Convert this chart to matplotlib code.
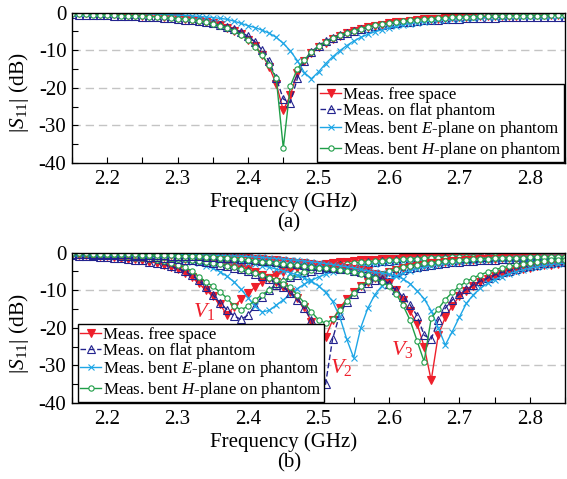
import numpy as np
import matplotlib
matplotlib.use("Agg")
import matplotlib.pyplot as plt
from matplotlib.ticker import MultipleLocator

plt.rcParams['font.family'] = ['Liberation Serif', 'DejaVu Serif']
plt.rcParams['mathtext.fontset'] = 'custom'
plt.rcParams['mathtext.rm'] = 'Liberation Serif'
plt.rcParams['mathtext.it'] = 'Liberation Serif:italic'
plt.rcParams['axes.unicode_minus'] = False

# frequency grid (GHz)
freq = [2.15, 2.16, 2.17, 2.18, 2.19, 2.20, 2.21, 2.22, 2.23, 2.24,
        2.25, 2.26, 2.27, 2.28, 2.29, 2.30, 2.31, 2.32, 2.33, 2.34,
        2.35, 2.36, 2.37, 2.38, 2.39, 2.40, 2.41, 2.42, 2.43, 2.44,
        2.45, 2.46, 2.47, 2.48, 2.49, 2.50, 2.51, 2.52, 2.53, 2.54,
        2.55, 2.56, 2.57, 2.58, 2.59, 2.60, 2.61, 2.62, 2.63, 2.64,
        2.65, 2.66, 2.67, 2.68, 2.69, 2.70, 2.71, 2.72, 2.73, 2.74,
        2.75, 2.76, 2.77, 2.78, 2.79, 2.80, 2.81, 2.82, 2.83, 2.84, 2.85]

# ---- (a) ----
a_free = [-0.1, -0.15, -0.2, -0.25, -0.3, -0.4, -0.45, -0.5, -0.6, -0.7,
          -0.8, -0.9, -1.0, -1.2, -1.3, -1.5, -1.7, -1.9, -2.2, -2.5,
          -2.9, -3.4, -4.0, -4.8, -5.8, -7.2, -8.9, -11.2, -14.5, -19.0,
          -26.0, -22.0, -16.0, -12.8, -10.8, -9.2, -8.0, -7.0, -6.2, -5.5,
          -4.9, -4.4, -3.9, -3.5, -3.2, -2.9, -2.6, -2.4, -2.2, -2.0,
          -1.8, -1.7, -1.6, -1.4, -1.3, -1.2, -1.1, -1.05, -1.0, -0.95,
          -0.9, -0.85, -0.8, -0.8, -0.75, -0.7, -0.7, -0.65, -0.65, -0.6, -0.6]
a_flat = [-0.5, -0.55, -0.6, -0.65, -0.7, -0.75, -0.8, -0.9, -0.95, -1.0,
          -1.1, -1.2, -1.3, -1.4, -1.55, -1.7, -1.9, -2.1, -2.3, -2.6,
          -2.9, -3.3, -3.8, -4.4, -5.2, -6.3, -7.8, -10.0, -13.0, -17.5,
          -23.0, -24.0, -17.5, -13.0, -10.5, -8.8, -7.6, -6.7, -6.0, -5.4,
          -4.9, -4.4, -4.0, -3.6, -3.3, -3.0, -2.8, -2.6, -2.4, -2.2,
          -2.1, -2.0, -1.9, -1.8, -1.7, -1.6, -1.55, -1.5, -1.45, -1.4,
          -1.35, -1.3, -1.3, -1.25, -1.25, -1.2, -1.2, -1.2, -1.15, -1.15, -1.15]
a_eplane = [-0.05, -0.05, -0.1, -0.1, -0.15, -0.15, -0.2, -0.25, -0.25, -0.3,
            -0.35, -0.4, -0.45, -0.55, -0.6, -0.7, -0.8, -0.9, -1.05, -1.2,
            -1.35, -1.55, -1.8, -2.3, -2.9, -3.5, -4.0, -4.7, -5.5, -6.6,
            -8.2, -10.2, -12.8, -16.0, -17.6, -15.8, -13.6, -11.8, -10.2, -8.8,
            -7.6, -6.6, -5.8, -5.1, -4.6, -4.1, -3.7, -3.3, -3.0, -2.7,
            -2.5, -2.3, -2.1, -1.9, -1.75, -1.6, -1.5, -1.4, -1.3, -1.2,
            -1.15, -1.1, -1.05, -1.0, -0.95, -0.9, -0.85, -0.85, -0.8, -0.8, -0.75]
a_hplane = [-0.4, -0.45, -0.5, -0.55, -0.6, -0.65, -0.7, -0.8, -0.85, -0.9,
            -1.0, -1.1, -1.2, -1.3, -1.45, -1.6, -1.8, -2.0, -2.3, -2.6,
            -3.0, -3.5, -4.1, -4.9, -5.9, -7.3, -9.1, -11.4, -14.0, -17.5,
            -36.0, -19.5, -15.0, -12.5, -10.6, -9.0, -7.8, -6.9, -6.1, -5.4,
            -4.8, -4.3, -3.8, -3.4, -3.1, -2.8, -2.5, -2.3, -2.1, -1.9,
            -1.8, -1.6, -1.5, -1.4, -1.3, -1.2, -1.15, -1.1, -1.05, -1.0,
            -0.95, -0.9, -0.9, -0.85, -0.85, -0.8, -0.8, -0.8, -0.75, -0.75, -0.75]

# ---- (b) V1 ----
v1_free = [-0.5, -0.6, -0.7, -0.8, -0.9, -1.0, -1.2, -1.4, -1.6, -1.8,
           -2.1, -2.4, -2.8, -3.2, -3.8, -4.5, -5.4, -6.6, -8.2, -10.0,
           -11.6, -13.8, -16.5, -14.5, -12.4, -10.8, -9.2, -7.8, -6.7, -5.9,
           -5.2, -4.6, -4.2, -3.8, -3.5, -3.2, -3.0, -2.8, -2.6, -2.4,
           -2.3, -2.1, -2.0, -1.9, -1.8, -1.7, -1.6, -1.5, -1.45, -1.4,
           -1.3, -1.25, -1.2, -1.15, -1.1, -1.05, -1.0, -0.95, -0.9, -0.9,
           -0.85, -0.8, -0.8, -0.75, -0.75, -0.7, -0.7, -0.65, -0.65, -0.6, -0.6]
v1_flat = [-0.7, -0.8, -0.9, -1.0, -1.1, -1.2, -1.35, -1.5, -1.7, -1.9,
           -2.1, -2.4, -2.7, -3.1, -3.6, -4.2, -5.0, -6.0, -7.4, -9.2,
           -11.2, -13.4, -15.2, -16.8, -17.8, -16.6, -14.2, -11.8, -10.0, -8.6,
           -7.5, -6.6, -5.9, -5.3, -4.8, -4.4, -4.0, -3.7, -3.4, -3.2,
           -3.0, -2.8, -2.6, -2.5, -2.35, -2.2, -2.1, -2.0, -1.9, -1.8,
           -1.75, -1.7, -1.6, -1.55, -1.5, -1.45, -1.4, -1.35, -1.3, -1.3,
           -1.25, -1.2, -1.2, -1.15, -1.15, -1.1, -1.1, -1.1, -1.05, -1.05, -1.0]
v1_eplane = [-0.2, -0.25, -0.3, -0.35, -0.4, -0.45, -0.5, -0.6, -0.7, -0.8,
             -0.9, -1.0, -1.15, -1.3, -1.5, -1.7, -2.0, -2.4, -2.9, -3.5,
             -4.2, -5.1, -6.3, -7.8, -9.8, -12.0, -14.3, -15.8, -15.4, -14.0,
             -12.6, -11.0, -9.6, -8.4, -7.4, -6.5, -5.8, -5.2, -4.7, -4.3,
             -3.9, -3.6, -3.3, -3.0, -2.8, -2.6, -2.4, -2.25, -2.1, -2.0,
             -1.9, -1.8, -1.7, -1.6, -1.5, -1.45, -1.4, -1.3, -1.25, -1.2,
             -1.15, -1.1, -1.05, -1.0, -1.0, -0.95, -0.9, -0.9, -0.85, -0.85, -0.8]
v1_hplane = [-0.4, -0.5, -0.55, -0.6, -0.7, -0.8, -0.9, -1.0, -1.2, -1.35,
             -1.5, -1.7, -2.0, -2.3, -2.7, -3.2, -3.9, -4.9, -6.4, -7.8,
             -9.0, -10.5, -12.1, -14.2, -15.2, -14.3, -12.6, -11.2, -9.9, -8.6,
             -7.5, -6.6, -5.8, -5.2, -4.6, -4.2, -3.8, -3.5, -3.2, -3.0,
             -2.8, -2.6, -2.4, -2.3, -2.15, -2.0, -1.9, -1.8, -1.7, -1.6,
             -1.55, -1.5, -1.4, -1.35, -1.3, -1.25, -1.2, -1.15, -1.1, -1.1,
             -1.05, -1.0, -1.0, -0.95, -0.95, -0.9, -0.9, -0.9, -0.85, -0.85, -0.85]

# ---- (b) V2 ----
v2_free = [-0.2, -0.25, -0.3, -0.35, -0.4, -0.45, -0.5, -0.55, -0.6, -0.7,
           -0.8, -0.9, -1.0, -1.1, -1.25, -1.4, -1.6, -1.8, -2.0, -2.3,
           -2.6, -2.9, -3.3, -3.7, -4.1, -4.5, -5.2, -5.9, -6.8, -7.9,
           -9.2, -10.6, -12.2, -14.6, -18.5, -21.0, -22.5, -18.0, -14.8, -12.4,
           -10.5, -9.0, -7.8, -6.8, -6.0, -5.3, -4.7, -4.2, -3.8, -3.5,
           -3.2, -2.9, -2.7, -2.5, -2.3, -2.2, -2.0, -1.9, -1.8, -1.7,
           -1.6, -1.55, -1.5, -1.4, -1.35, -1.3, -1.25, -1.2, -1.2, -1.15, -1.1]
v2_flat = [-0.4, -0.45, -0.5, -0.55, -0.6, -0.65, -0.7, -0.8, -0.85, -0.95,
           -1.05, -1.15, -1.3, -1.4, -1.55, -1.7, -1.9, -2.1, -2.3, -2.6,
           -2.9, -3.2, -3.6, -4.0, -4.5, -5.0, -5.6, -6.3, -7.1, -8.1,
           -9.3, -10.8, -12.6, -14.8, -18.0, -24.0, -35.0, -23.0, -16.5, -13.2,
           -11.0, -9.4, -8.2, -7.2, -6.4, -5.7, -5.1, -4.6, -4.2, -3.8,
           -3.5, -3.2, -3.0, -2.8, -2.6, -2.45, -2.3, -2.2, -2.1, -2.0,
           -1.9, -1.8, -1.75, -1.7, -1.65, -1.6, -1.55, -1.5, -1.45, -1.45, -1.4]
v2_eplane = [-0.15, -0.2, -0.2, -0.25, -0.3, -0.3, -0.35, -0.4, -0.45, -0.5,
             -0.55, -0.6, -0.7, -0.75, -0.85, -0.95, -1.05, -1.15, -1.3, -1.45,
             -1.6, -1.8, -2.0, -2.25, -2.5, -2.8, -3.1, -3.5, -3.9, -4.4,
             -4.9, -5.4, -6.0, -6.8, -7.7, -8.9, -10.6, -13.0, -17.0, -23.0,
             -28.0, -20.0, -14.8, -11.2, -8.9, -7.4, -6.3, -5.5, -4.8, -4.3,
             -3.9, -3.5, -3.2, -2.9, -2.7, -2.5, -2.3, -2.15, -2.0, -1.9,
             -1.8, -1.7, -1.6, -1.55, -1.5, -1.4, -1.35, -1.3, -1.25, -1.2, -1.15]
v2_hplane = [-0.3, -0.35, -0.4, -0.45, -0.5, -0.55, -0.6, -0.7, -0.75, -0.85,
             -0.95, -1.05, -1.15, -1.3, -1.45, -1.6, -1.8, -2.0, -2.2, -2.5,
             -2.8, -3.1, -3.5, -3.9, -4.4, -4.9, -5.5, -6.0, -6.7, -7.4,
             -8.3, -9.3, -11.3, -13.4, -15.8, -17.9, -18.8, -17.8, -15.4, -12.9,
             -10.7, -9.0, -7.6, -6.5, -5.7, -5.0, -4.4, -3.9, -3.5, -3.2,
             -2.9, -2.7, -2.5, -2.3, -2.15, -2.0, -1.9, -1.8, -1.7, -1.6,
             -1.55, -1.5, -1.45, -1.4, -1.35, -1.3, -1.25, -1.2, -1.2, -1.15, -1.1]

# ---- (b) V3 ----
v3_free = [-0.1, -0.1, -0.15, -0.15, -0.2, -0.2, -0.25, -0.25, -0.3, -0.3,
           -0.35, -0.4, -0.45, -0.5, -0.55, -0.6, -0.65, -0.7, -0.8, -0.85,
           -0.95, -1.0, -1.1, -1.2, -1.3, -1.45, -1.6, -1.75, -1.9, -2.1,
           -2.3, -2.5, -2.7, -2.9, -3.1, -3.3, -3.5, -3.7, -3.9, -4.1,
           -4.3, -4.6, -5.0, -5.6, -6.6, -8.0, -10.0, -12.6, -15.6, -19.0,
           -25.0, -34.0, -22.0, -17.2, -14.2, -11.6, -10.1, -8.9, -7.9, -7.1,
           -6.3, -5.7, -5.2, -4.7, -4.3, -4.0, -3.7, -3.4, -3.2, -3.0, -2.8]
v3_flat = [-0.3, -0.3, -0.35, -0.35, -0.4, -0.4, -0.45, -0.5, -0.5, -0.55,
           -0.6, -0.65, -0.7, -0.75, -0.8, -0.85, -0.9, -1.0, -1.05, -1.15,
           -1.25, -1.35, -1.45, -1.55, -1.7, -1.85, -2.0, -2.15, -2.3, -2.5,
           -2.7, -2.9, -3.1, -3.3, -3.5, -3.7, -3.9, -4.1, -4.3, -4.5,
           -4.8, -5.1, -5.5, -6.1, -7.0, -8.3, -10.0, -11.8, -13.9, -16.8,
           -22.0, -23.0, -18.0, -14.8, -12.6, -11.1, -9.8, -8.6, -7.6, -6.8,
           -6.0, -5.3, -4.8, -4.3, -3.9, -3.5, -3.2, -2.9, -2.7, -2.5, -2.4]
v3_eplane = [-0.1, -0.1, -0.1, -0.15, -0.15, -0.15, -0.2, -0.2, -0.25, -0.25,
             -0.3, -0.3, -0.35, -0.4, -0.4, -0.45, -0.5, -0.55, -0.6, -0.65,
             -0.7, -0.8, -0.85, -0.95, -1.0, -1.1, -1.2, -1.3, -1.45, -1.6,
             -1.75, -1.9, -2.1, -2.3, -2.5, -2.7, -2.95, -3.2, -3.5, -3.8,
             -4.1, -4.5, -4.9, -5.3, -5.5, -5.8, -6.3, -7.0, -8.3, -10.2,
             -12.3, -15.5, -20.0, -24.6, -21.0, -17.2, -13.5, -11.2, -9.5, -8.2,
             -7.2, -6.4, -5.7, -5.1, -4.6, -4.2, -3.8, -3.5, -3.2, -3.0, -2.8]
v3_hplane = [-0.2, -0.25, -0.25, -0.3, -0.3, -0.35, -0.35, -0.4, -0.45, -0.5,
             -0.55, -0.6, -0.65, -0.7, -0.75, -0.8, -0.9, -0.95, -1.05, -1.15,
             -1.25, -1.35, -1.5, -1.65, -1.8, -2.0, -2.2, -2.4, -2.6, -2.8,
             -3.0, -3.2, -3.4, -3.6, -3.8, -4.0, -4.2, -4.4, -4.6, -4.9,
             -5.2, -5.6, -6.1, -6.8, -7.8, -9.0, -11.0, -14.0, -18.0, -23.5,
             -29.0, -17.5, -15.0, -12.5, -10.6, -9.0, -7.7, -6.7, -5.9, -5.2,
             -4.6, -4.1, -3.7, -3.3, -3.0, -2.7, -2.5, -2.3, -2.1, -2.0, -1.9]

labels = ['Meas. free space', 'Meas. on flat phantom',
          'Meas. bent $E$-plane on phantom', 'Meas. bent $H$-plane on phantom']

red = '#ee1f2b'
navy = '#23238e'
sky = '#1ea6e6'
green = '#1f9e48'

styles = [
    dict(color=red, ls='-', marker='v', ms=6, mfc=red, mec=red, mew=0.8),
    dict(color=navy, ls='--', marker='^', ms=6, mfc='none', mec=navy, mew=0.8, dashes=(4, 2)),
    dict(color=sky, ls='-', marker='x', ms=4, mec=sky, mew=0.8),
    dict(color=green, ls='-', marker='o', ms=3.8, mfc='white', mec=green, mew=0.8),
]

fig = plt.figure(figsize=(5.67, 4.79), dpi=100)
ax_a = fig.add_axes([72/567, 1-163/479, 493/567, 150.5/479])
ax_b = fig.add_axes([72/567, 1-403/479, 493/567, 150.5/479])


def style_axes(ax):
    ax.set_xlim(2.15, 2.85)
    ax.set_ylim(-40, 0)
    ax.xaxis.set_minor_locator(MultipleLocator(0.05))
    ax.yaxis.set_minor_locator(MultipleLocator(5))
    ax.set_xticks([2.2, 2.3, 2.4, 2.5, 2.6, 2.7, 2.8])
    ax.set_xticklabels(['2.2', '2.3', '2.4', '2.5', '2.6', '2.7', '2.8'])
    ax.set_yticks([0, -10, -20, -30, -40])
    ax.set_yticklabels(['0', '-10', '-20', '-30', '-40'])
    ax.tick_params(which='both', direction='in', length=4, width=0.8,
                   labelsize=15, top=False, right=False)
    ax.tick_params(axis='x', pad=5)
    ax.tick_params(axis='y', pad=4)
    for s in ax.spines.values():
        s.set_linewidth(1.0)
        s.set_color('black')
    for g in [-10, -20, -30]:
        ax.axhline(g, color='#c4c4c4', lw=1.0, ls=(0, (6, 3.5)), zorder=0)


style_axes(ax_a)
style_axes(ax_b)

leg_kw = dict(fontsize=12.2, frameon=True, fancybox=False, edgecolor='black',
              framealpha=1, borderaxespad=0.05, handlelength=1.25,
              handletextpad=0.1, labelspacing=0.02, borderpad=0.15)

# panel (a)
for vals, st, lab in zip([a_free, a_flat, a_eplane, a_hplane], styles, labels):
    ax_a.plot(freq, vals, lw=1.0, label=lab, **st)

leg_a = ax_a.legend(loc='lower right', **leg_kw)
leg_a.get_frame().set_linewidth(1.0)

# panel (b)
groups = [
    [v1_free, v1_flat, v1_eplane, v1_hplane],
    [v2_free, v2_flat, v2_eplane, v2_hplane],
    [v3_free, v3_flat, v3_eplane, v3_hplane],
]
for gi, grp in enumerate(groups):
    for vals, st, lab in zip(grp, styles, labels):
        ax_b.plot(freq, vals, lw=1.0, label=lab if gi == 0 else None, **st)

leg_b = ax_b.legend(loc='lower left', bbox_to_anchor=(0.01, 0.0), **leg_kw)
leg_b.get_frame().set_linewidth(1.0)

ax_b.text(2.3375, -15.6, '$V_1$', color=red, fontsize=16, ha='center', va='center')
ax_b.text(2.532, -30.5, '$V_2$', color=red, fontsize=16, ha='center', va='center')
ax_b.text(2.619, -25.7, '$V_3$', color=red, fontsize=16, ha='center', va='center')

# axis labels and captions
fig.text(0.5, 1-202/479, 'Frequency (GHz)', fontsize=15, ha='center', va='center')
fig.text(0.51, 1-223/479, '(a)', fontsize=15, ha='center', va='center')
fig.text(0.5, 1-442/479, 'Frequency (GHz)', fontsize=15, ha='center', va='center')
fig.text(0.51, 1-463/479, '(b)', fontsize=15, ha='center', va='center')
fig.text(19/567, 1-93/479, r'$|S_{11}|$ (dB)', fontsize=15.5, rotation=90,
         ha='center', va='center')
fig.text(19/567, 1-334/479, r'$|S_{11}|$ (dB)', fontsize=15.5, rotation=90,
         ha='center', va='center')

fig.savefig('out.png', dpi=100)
